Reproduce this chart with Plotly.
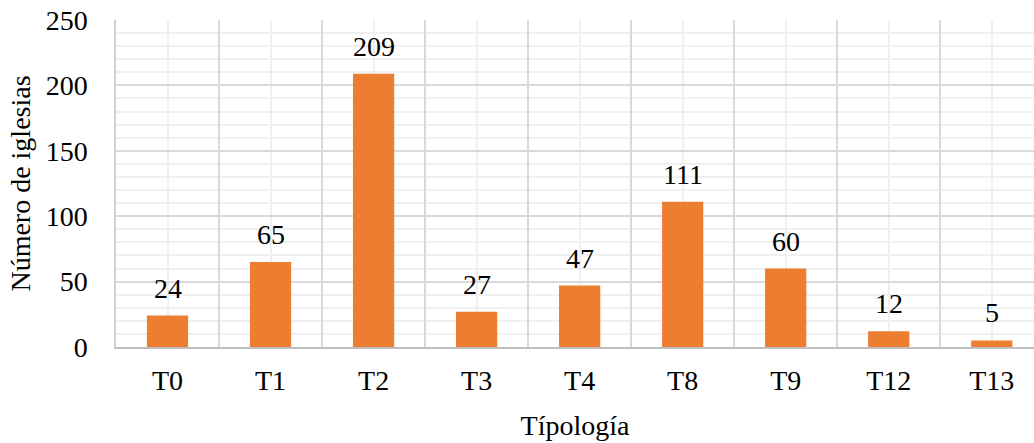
import plotly.graph_objects as go

categories = ["T0", "T1", "T2", "T3", "T4", "T8", "T9", "T12", "T13"]
values = [24, 65, 209, 27, 47, 111, 60, 12, 5]

xpos = list(range(len(categories)))
boundaries = [i - 0.5 for i in range(len(categories) + 1)]

FONT = "Liberation Serif, Times New Roman, serif"
FS = 28

fig = go.Figure()
fig.add_trace(go.Bar(x=xpos, y=values, width=0.4, marker_color="#ED7D31",
                     marker_line_width=0, showlegend=False, hoverinfo="skip"))
# invisible trace for the overlay axis (major vertical gridlines)
fig.add_trace(go.Scatter(x=[boundaries[0]], y=[0], xaxis="x2", mode="markers",
                         marker_opacity=0, showlegend=False, hoverinfo="skip"))

for x, v in zip(xpos, values):
    fig.add_annotation(x=x, y=v, text=str(v), showarrow=False, yanchor="bottom",
                       yshift=10, font=dict(family=FONT, size=FS, color="#000"))

# plot area continues past the right edge of the picture (cut off in the reference)
xr = [-0.5, 8.41]
fig.update_layout(
    width=1034, height=443,
    margin=dict(l=116, r=0, t=20, b=96, autoexpand=False),
    paper_bgcolor="white", plot_bgcolor="white",
    font=dict(family=FONT, size=FS, color="#000"),
    xaxis=dict(range=xr, tickmode="array", tickvals=xpos, ticktext=categories,
               showgrid=True, gridcolor="#f0f0f0", gridwidth=1.5,
               showline=True, linecolor="#bfbfbf", linewidth=2,
               ticks="", ticklabelstandoff=7, zeroline=False, automargin=False,
               title=dict(text="Típología", font=dict(size=FS), standoff=21)),
    xaxis2=dict(range=xr, overlaying="x", matches="x", tickmode="array",
                tickvals=boundaries, showticklabels=False, showgrid=True,
                gridcolor="#d9d9d9", gridwidth=1.5, zeroline=False, showline=False),
    yaxis=dict(range=[0, 250], tickmode="linear", tick0=0, dtick=50,
               showgrid=True, gridcolor="#d9d9d9", gridwidth=1.5,
               minor=dict(dtick=10, showgrid=True, gridcolor="#f0f0f0", gridwidth=1.5),
               showline=True, linecolor="#d0d0d0", linewidth=1.5,
               ticks="", ticklabelstandoff=21, zeroline=False, automargin=False,
               ticklabeloverflow="allow",
               title=dict(text="Número de iglesias", font=dict(size=FS), standoff=7)),
)

fig.write_html("out.html", config={"displayModeBar": False},
               post_script="document.body.style.margin='0';")
